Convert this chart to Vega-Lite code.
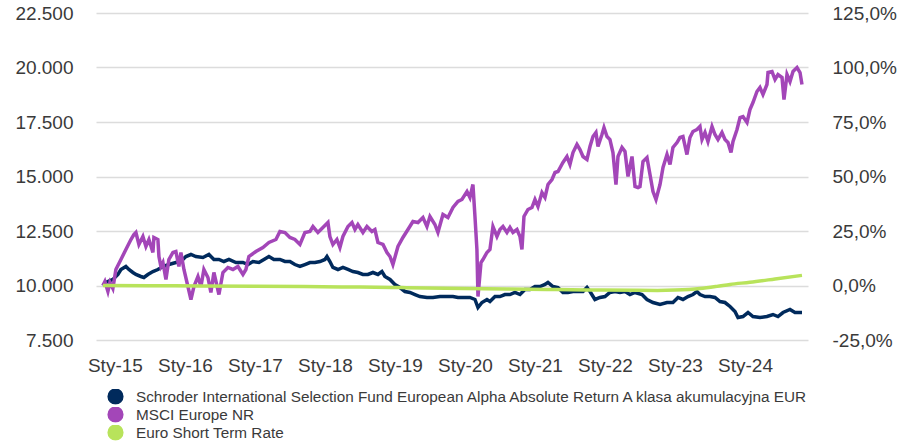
{
  "$schema": "https://vega.github.io/schema/vega-lite/v6.json",
  "width": 712,
  "height": 327,
  "autosize": {"type": "none"},
  "padding": {"left": 96, "top": 13, "right": 90, "bottom": 102},
  "background": "white",
  "config": {
    "font": "Liberation Sans",
    "view": {"stroke": null},
    "axis": {"labelFont": "Liberation Sans", "labelFontSize": 19, "labelColor": "#3a3a3a", "title": null, "domain": false, "ticks": false}
  },
  "datasets": {
    "fund": [
      {"t": 2014.829, "v": 10000}, {"t": 2014.871, "v": 10138}, {"t": 2014.929, "v": 10229}, {"t": 2014.971, "v": 10275},
      {"t": 2015.043, "v": 10505}, {"t": 2015.086, "v": 10734}, {"t": 2015.157, "v": 10872}, {"t": 2015.2, "v": 10734},
      {"t": 2015.257, "v": 10596}, {"t": 2015.3, "v": 10505}, {"t": 2015.371, "v": 10413}, {"t": 2015.414, "v": 10367},
      {"t": 2015.471, "v": 10505}, {"t": 2015.543, "v": 10642}, {"t": 2015.614, "v": 10734}, {"t": 2015.686, "v": 10872},
      {"t": 2015.771, "v": 10963}, {"t": 2015.871, "v": 11055}, {"t": 2015.943, "v": 11101}, {"t": 2016.014, "v": 11330},
      {"t": 2016.086, "v": 11422}, {"t": 2016.157, "v": 11330}, {"t": 2016.257, "v": 11284}, {"t": 2016.343, "v": 11422},
      {"t": 2016.414, "v": 11193}, {"t": 2016.486, "v": 11193}, {"t": 2016.557, "v": 11101}, {"t": 2016.629, "v": 11193},
      {"t": 2016.729, "v": 11055}, {"t": 2016.829, "v": 11055}, {"t": 2016.9, "v": 10963}, {"t": 2016.971, "v": 11101},
      {"t": 2017.057, "v": 11055}, {"t": 2017.129, "v": 11193}, {"t": 2017.2, "v": 11330}, {"t": 2017.271, "v": 11193},
      {"t": 2017.357, "v": 11193}, {"t": 2017.429, "v": 11101}, {"t": 2017.5, "v": 11101}, {"t": 2017.571, "v": 10963},
      {"t": 2017.643, "v": 10872}, {"t": 2017.714, "v": 10963}, {"t": 2017.786, "v": 11055}, {"t": 2017.857, "v": 11055},
      {"t": 2017.929, "v": 11101}, {"t": 2018.0, "v": 11193}, {"t": 2018.029, "v": 11330}, {"t": 2018.071, "v": 11101},
      {"t": 2018.114, "v": 10826}, {"t": 2018.186, "v": 10734}, {"t": 2018.257, "v": 10826}, {"t": 2018.329, "v": 10734},
      {"t": 2018.4, "v": 10642}, {"t": 2018.471, "v": 10596}, {"t": 2018.543, "v": 10505}, {"t": 2018.614, "v": 10505},
      {"t": 2018.686, "v": 10596}, {"t": 2018.757, "v": 10505}, {"t": 2018.814, "v": 10642}, {"t": 2018.857, "v": 10413},
      {"t": 2018.929, "v": 10275}, {"t": 2019.0, "v": 10046}, {"t": 2019.071, "v": 9908}, {"t": 2019.143, "v": 9725},
      {"t": 2019.214, "v": 9679}, {"t": 2019.286, "v": 9587}, {"t": 2019.357, "v": 9495}, {"t": 2019.457, "v": 9450},
      {"t": 2019.543, "v": 9450}, {"t": 2019.643, "v": 9495}, {"t": 2019.743, "v": 9495}, {"t": 2019.829, "v": 9495},
      {"t": 2019.9, "v": 9450}, {"t": 2019.971, "v": 9450}, {"t": 2020.071, "v": 9450}, {"t": 2020.143, "v": 9358},
      {"t": 2020.186, "v": 8991}, {"t": 2020.243, "v": 9220}, {"t": 2020.314, "v": 9358}, {"t": 2020.357, "v": 9266},
      {"t": 2020.429, "v": 9495}, {"t": 2020.5, "v": 9495}, {"t": 2020.571, "v": 9587}, {"t": 2020.643, "v": 9587},
      {"t": 2020.714, "v": 9679}, {"t": 2020.786, "v": 9587}, {"t": 2020.857, "v": 9817}, {"t": 2020.929, "v": 9817},
      {"t": 2021.0, "v": 9954}, {"t": 2021.071, "v": 9954}, {"t": 2021.143, "v": 10046}, {"t": 2021.186, "v": 10138},
      {"t": 2021.257, "v": 9954}, {"t": 2021.329, "v": 9908}, {"t": 2021.4, "v": 9679}, {"t": 2021.471, "v": 9679},
      {"t": 2021.543, "v": 9725}, {"t": 2021.614, "v": 9725}, {"t": 2021.686, "v": 9725}, {"t": 2021.743, "v": 9908},
      {"t": 2021.786, "v": 9725}, {"t": 2021.857, "v": 9358}, {"t": 2021.929, "v": 9450}, {"t": 2022.0, "v": 9495},
      {"t": 2022.071, "v": 9679}, {"t": 2022.143, "v": 9725}, {"t": 2022.214, "v": 9679}, {"t": 2022.286, "v": 9725},
      {"t": 2022.357, "v": 9587}, {"t": 2022.429, "v": 9679}, {"t": 2022.529, "v": 9587}, {"t": 2022.6, "v": 9358},
      {"t": 2022.686, "v": 9220}, {"t": 2022.786, "v": 9128}, {"t": 2022.886, "v": 9220}, {"t": 2022.971, "v": 9220},
      {"t": 2023.043, "v": 9450}, {"t": 2023.114, "v": 9358}, {"t": 2023.186, "v": 9495}, {"t": 2023.257, "v": 9587},
      {"t": 2023.314, "v": 9725}, {"t": 2023.357, "v": 9587}, {"t": 2023.429, "v": 9495}, {"t": 2023.5, "v": 9495},
      {"t": 2023.571, "v": 9450}, {"t": 2023.643, "v": 9266}, {"t": 2023.714, "v": 9220}, {"t": 2023.786, "v": 9037},
      {"t": 2023.857, "v": 8807}, {"t": 2023.9, "v": 8532}, {"t": 2023.971, "v": 8578}, {"t": 2024.043, "v": 8761},
      {"t": 2024.114, "v": 8578}, {"t": 2024.214, "v": 8532}, {"t": 2024.314, "v": 8578}, {"t": 2024.4, "v": 8670},
      {"t": 2024.471, "v": 8578}, {"t": 2024.543, "v": 8761}, {"t": 2024.643, "v": 8899}, {"t": 2024.714, "v": 8761},
      {"t": 2024.786, "v": 8761}, {"t": 2024.814, "v": 8761}
    ],
    "msci": [
      {"t": 2014.829, "v": 10000}, {"t": 2014.857, "v": 10183}, {"t": 2014.9, "v": 9725}, {"t": 2014.929, "v": 10138},
      {"t": 2014.971, "v": 9862}, {"t": 2015.014, "v": 10734}, {"t": 2015.086, "v": 11193}, {"t": 2015.157, "v": 11651},
      {"t": 2015.229, "v": 12110}, {"t": 2015.271, "v": 12339}, {"t": 2015.3, "v": 12431}, {"t": 2015.343, "v": 11881},
      {"t": 2015.4, "v": 12248}, {"t": 2015.443, "v": 11789}, {"t": 2015.486, "v": 12110}, {"t": 2015.543, "v": 11514},
      {"t": 2015.557, "v": 12202}, {"t": 2015.614, "v": 12110}, {"t": 2015.629, "v": 11330}, {"t": 2015.657, "v": 10872},
      {"t": 2015.686, "v": 11055}, {"t": 2015.729, "v": 10275}, {"t": 2015.771, "v": 11193}, {"t": 2015.829, "v": 11514},
      {"t": 2015.871, "v": 11560}, {"t": 2015.914, "v": 10872}, {"t": 2015.943, "v": 11514}, {"t": 2015.986, "v": 10734},
      {"t": 2016.043, "v": 9954}, {"t": 2016.086, "v": 9358}, {"t": 2016.129, "v": 9954}, {"t": 2016.186, "v": 10413},
      {"t": 2016.229, "v": 9954}, {"t": 2016.271, "v": 10734}, {"t": 2016.329, "v": 10367}, {"t": 2016.371, "v": 9679},
      {"t": 2016.414, "v": 10596}, {"t": 2016.486, "v": 9587}, {"t": 2016.543, "v": 10596}, {"t": 2016.614, "v": 10826},
      {"t": 2016.686, "v": 10734}, {"t": 2016.757, "v": 10872}, {"t": 2016.829, "v": 10505}, {"t": 2016.871, "v": 10734},
      {"t": 2016.914, "v": 11330}, {"t": 2017.014, "v": 11560}, {"t": 2017.114, "v": 11743}, {"t": 2017.2, "v": 11972},
      {"t": 2017.3, "v": 12110}, {"t": 2017.357, "v": 12477}, {"t": 2017.429, "v": 12431}, {"t": 2017.5, "v": 12202},
      {"t": 2017.571, "v": 12110}, {"t": 2017.643, "v": 11881}, {"t": 2017.714, "v": 12431}, {"t": 2017.786, "v": 12477},
      {"t": 2017.829, "v": 12706}, {"t": 2017.9, "v": 12431}, {"t": 2017.971, "v": 12660}, {"t": 2018.043, "v": 12890},
      {"t": 2018.071, "v": 12248}, {"t": 2018.114, "v": 11881}, {"t": 2018.171, "v": 12110}, {"t": 2018.214, "v": 11743},
      {"t": 2018.257, "v": 12248}, {"t": 2018.329, "v": 12706}, {"t": 2018.386, "v": 12890}, {"t": 2018.429, "v": 12569},
      {"t": 2018.471, "v": 12798}, {"t": 2018.543, "v": 12431}, {"t": 2018.6, "v": 12706}, {"t": 2018.671, "v": 12477},
      {"t": 2018.714, "v": 12569}, {"t": 2018.757, "v": 11972}, {"t": 2018.829, "v": 11881}, {"t": 2018.886, "v": 11514},
      {"t": 2018.929, "v": 11330}, {"t": 2018.971, "v": 10963}, {"t": 2019.043, "v": 11789}, {"t": 2019.114, "v": 12202},
      {"t": 2019.186, "v": 12569}, {"t": 2019.257, "v": 12936}, {"t": 2019.329, "v": 12890}, {"t": 2019.4, "v": 13119},
      {"t": 2019.457, "v": 12706}, {"t": 2019.5, "v": 13165}, {"t": 2019.571, "v": 12798}, {"t": 2019.614, "v": 12431},
      {"t": 2019.686, "v": 13256}, {"t": 2019.757, "v": 13119}, {"t": 2019.829, "v": 13578}, {"t": 2019.9, "v": 13853},
      {"t": 2019.957, "v": 13945}, {"t": 2020.029, "v": 14312}, {"t": 2020.071, "v": 14037}, {"t": 2020.114, "v": 14633},
      {"t": 2020.143, "v": 13165}, {"t": 2020.171, "v": 11651}, {"t": 2020.186, "v": 9495}, {"t": 2020.229, "v": 11055},
      {"t": 2020.257, "v": 11193}, {"t": 2020.314, "v": 11514}, {"t": 2020.357, "v": 11651}, {"t": 2020.4, "v": 12706},
      {"t": 2020.457, "v": 12248}, {"t": 2020.5, "v": 12569}, {"t": 2020.543, "v": 12706}, {"t": 2020.6, "v": 12431},
      {"t": 2020.643, "v": 12660}, {"t": 2020.686, "v": 12431}, {"t": 2020.743, "v": 12569}, {"t": 2020.786, "v": 12248},
      {"t": 2020.814, "v": 11651}, {"t": 2020.843, "v": 13165}, {"t": 2020.9, "v": 13486}, {"t": 2020.957, "v": 13578},
      {"t": 2021.0, "v": 13945}, {"t": 2021.043, "v": 13624}, {"t": 2021.1, "v": 14266}, {"t": 2021.143, "v": 14037},
      {"t": 2021.186, "v": 14633}, {"t": 2021.243, "v": 14862}, {"t": 2021.286, "v": 15183}, {"t": 2021.329, "v": 15229},
      {"t": 2021.4, "v": 15642}, {"t": 2021.457, "v": 15917}, {"t": 2021.5, "v": 15550}, {"t": 2021.543, "v": 16101},
      {"t": 2021.6, "v": 16468}, {"t": 2021.643, "v": 16238}, {"t": 2021.686, "v": 15917}, {"t": 2021.743, "v": 15780},
      {"t": 2021.786, "v": 16376}, {"t": 2021.829, "v": 16835}, {"t": 2021.871, "v": 17018}, {"t": 2021.9, "v": 16376},
      {"t": 2021.957, "v": 16926}, {"t": 2021.986, "v": 17247}, {"t": 2022.029, "v": 16835}, {"t": 2022.071, "v": 16697},
      {"t": 2022.114, "v": 16101}, {"t": 2022.157, "v": 14633}, {"t": 2022.186, "v": 15917}, {"t": 2022.243, "v": 16330},
      {"t": 2022.286, "v": 16147}, {"t": 2022.329, "v": 15000}, {"t": 2022.386, "v": 15917}, {"t": 2022.429, "v": 14541},
      {"t": 2022.471, "v": 14495}, {"t": 2022.5, "v": 14541}, {"t": 2022.543, "v": 15688}, {"t": 2022.6, "v": 15871},
      {"t": 2022.643, "v": 15092}, {"t": 2022.686, "v": 14312}, {"t": 2022.729, "v": 13945}, {"t": 2022.786, "v": 14633},
      {"t": 2022.829, "v": 15413}, {"t": 2022.886, "v": 16009}, {"t": 2022.929, "v": 15550}, {"t": 2022.971, "v": 16330},
      {"t": 2023.029, "v": 16559}, {"t": 2023.071, "v": 16789}, {"t": 2023.114, "v": 16835}, {"t": 2023.171, "v": 16009},
      {"t": 2023.214, "v": 16789}, {"t": 2023.257, "v": 17064}, {"t": 2023.314, "v": 17155}, {"t": 2023.357, "v": 17293},
      {"t": 2023.386, "v": 16697}, {"t": 2023.429, "v": 17018}, {"t": 2023.471, "v": 16605}, {"t": 2023.529, "v": 17293},
      {"t": 2023.571, "v": 16926}, {"t": 2023.614, "v": 16697}, {"t": 2023.671, "v": 17018}, {"t": 2023.714, "v": 16697},
      {"t": 2023.757, "v": 16559}, {"t": 2023.8, "v": 16101}, {"t": 2023.829, "v": 16605}, {"t": 2023.886, "v": 17155},
      {"t": 2023.929, "v": 17706}, {"t": 2023.971, "v": 17752}, {"t": 2024.029, "v": 17477}, {"t": 2024.071, "v": 18073},
      {"t": 2024.114, "v": 18394}, {"t": 2024.171, "v": 18899}, {"t": 2024.214, "v": 19082}, {"t": 2024.257, "v": 18761},
      {"t": 2024.314, "v": 19220}, {"t": 2024.329, "v": 19770}, {"t": 2024.386, "v": 19816}, {"t": 2024.429, "v": 19449},
      {"t": 2024.471, "v": 19679}, {"t": 2024.529, "v": 19541}, {"t": 2024.557, "v": 18532}, {"t": 2024.6, "v": 19679},
      {"t": 2024.643, "v": 19357}, {"t": 2024.686, "v": 19816}, {"t": 2024.743, "v": 20000}, {"t": 2024.786, "v": 19770},
      {"t": 2024.814, "v": 19220}
    ],
    "estr": [
      {"t": 2014.829, "v": 10000}, {"t": 2015.5, "v": 9990}, {"t": 2016.2, "v": 9977}, {"t": 2017.0, "v": 9962},
      {"t": 2017.7, "v": 9950}, {"t": 2018.5, "v": 9928}, {"t": 2019.1, "v": 9905}, {"t": 2020.0, "v": 9868},
      {"t": 2020.6, "v": 9840}, {"t": 2021.3, "v": 9812}, {"t": 2021.95, "v": 9790}, {"t": 2022.5, "v": 9778},
      {"t": 2022.75, "v": 9775}, {"t": 2023.0, "v": 9790}, {"t": 2023.2, "v": 9820}, {"t": 2023.357, "v": 9860},
      {"t": 2023.6, "v": 9960}, {"t": 2023.786, "v": 10050}, {"t": 2024.071, "v": 10150}, {"t": 2024.43, "v": 10300},
      {"t": 2024.814, "v": 10465}
    ]
  },
  "encoding": {
    "x": {
      "field": "t",
      "type": "quantitative",
      "scale": {"domain": [2014.73, 2024.9], "nice": false, "zero": false},
      "axis": {
        "values": [2015, 2016, 2017, 2018, 2019, 2020, 2021, 2022, 2023, 2024],
        "labelExpr": "'Sty-' + substring(toString(datum.value), 2, 4)",
        "grid": false,
        "labelPadding": 16,
        "labelOverlap": false,
        "labelFlush": false
      }
    }
  },
  "layer": [
    {
      "data": {"name": "fund"},
      "mark": {"type": "line", "strokeWidth": 3.5, "interpolate": "linear"},
      "encoding": {
        "y": {
          "field": "v",
          "type": "quantitative",
          "scale": {"domain": [7500, 22500], "nice": false, "zero": false},
          "axis": {
            "orient": "left",
            "values": [7500, 10000, 12500, 15000, 17500, 20000, 22500],
            "labelExpr": "replace(format(datum.value, ','), ',', '.')",
            "grid": true,
            "gridColor": "#dcdcdc",
            "gridWidth": 1.5,
            "labelPadding": 23
          }
        },
        "color": {
          "datum": "Schroder International Selection Fund European Alpha Absolute Return A klasa akumulacyjna EUR",
          "type": "nominal",
          "scale": {
            "domain": ["Schroder International Selection Fund European Alpha Absolute Return A klasa akumulacyjna EUR", "MSCI Europe NR", "Euro Short Term Rate"],
            "range": ["#002a5c", "#a346b8", "#b8e35b"]
          },
          "legend": {
            "title": null,
            "orient": "none",
            "legendX": 11,
            "legendY": 376,
            "direction": "vertical",
            "symbolType": "circle",
            "symbolSize": 215,
            "clipHeight": 15,
            "labelFont": "Liberation Sans",
            "labelFontSize": 15.3,
            "labelLimit": 0,
            "labelColor": "#3a3a3a",
            "labelOffset": 12,
            "rowPadding": 2,
            "padding": 0,
            "encode": {
              "symbols": {
                "update": {
                  "fill": {"scale": "color", "field": "value"},
                  "stroke": {"value": "transparent"},
                  "opacity": {"value": 1}
                }
              }
            }
          }
        }
      }
    },
    {
      "data": {"name": "msci"},
      "mark": {"type": "line", "strokeWidth": 3.5, "interpolate": "linear"},
      "encoding": {
        "y": {
          "field": "v",
          "type": "quantitative",
          "scale": {"domain": [7500, 22500], "nice": false, "zero": false},
          "axis": null
        },
        "color": {"datum": "MSCI Europe NR", "type": "nominal"}
      }
    },
    {
      "data": {"name": "estr"},
      "mark": {"type": "line", "strokeWidth": 3.5, "interpolate": "monotone"},
      "encoding": {
        "y": {
          "field": "v",
          "type": "quantitative",
          "scale": {"domain": [7500, 22500], "nice": false, "zero": false},
          "axis": {
            "orient": "right",
            "values": [7500, 10000, 12500, 15000, 17500, 20000, 22500],
            "labelExpr": "(datum.value < 10000 ? '-' : '') + replace(format(abs(datum.value - 10000) / 100, '.1f'), '.', ',') + '%'",
            "grid": false,
            "labelPadding": 24
          }
        },
        "color": {"datum": "Euro Short Term Rate", "type": "nominal"}
      }
    }
  ],
  "resolve": {"scale": {"y": "independent"}}
}
